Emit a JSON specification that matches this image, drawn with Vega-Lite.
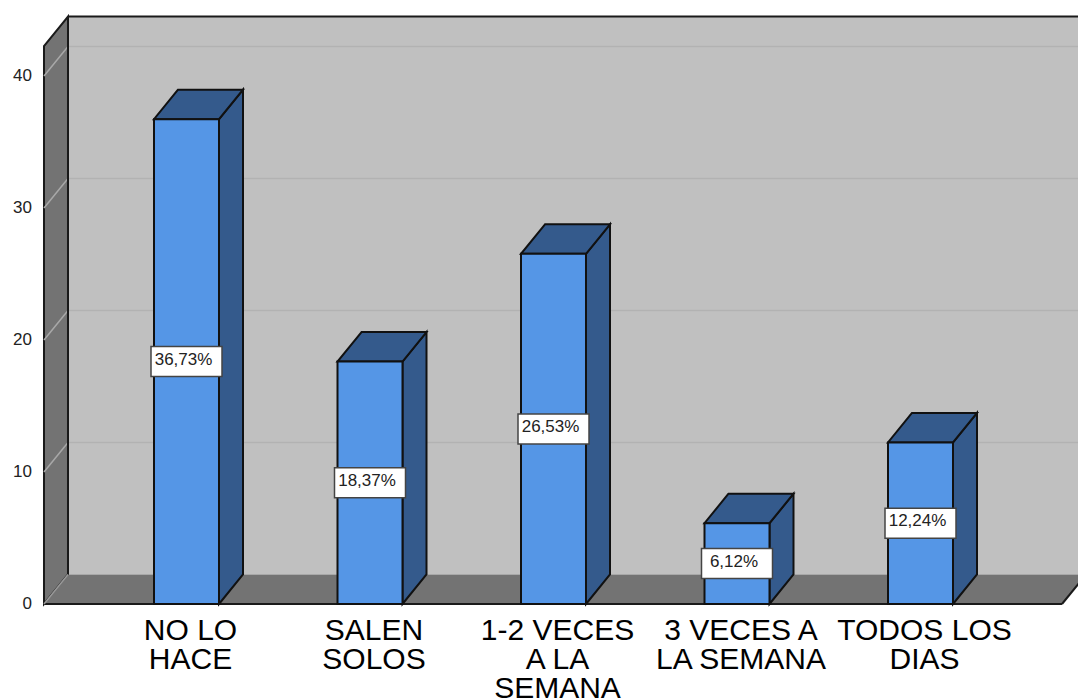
{
"$schema":"https://vega.github.io/schema/vega-lite/v6.json",
"width":1078,"height":700,"padding":0,"autosize":{"type":"none"},"background":"white",
"config":{"view":{"stroke":null},"font":"Liberation Sans"},
"datasets":{
"bars":[
{"categoria":["NO LO","HACE"],"valor":36.73,"etiqueta":"36,73%"},
{"categoria":["SALEN","SOLOS"],"valor":18.37,"etiqueta":"18,37%"},
{"categoria":["1-2 VECES","A LA","SEMANA"],"valor":26.53,"etiqueta":"26,53%"},
{"categoria":["3 VECES A","LA SEMANA"],"valor":6.12,"etiqueta":"6,12%"},
{"categoria":["TODOS LOS","DIAS"],"valor":12.24,"etiqueta":"12,24%"}
],
"ticks":[{"v":0},{"v":10},{"v":20},{"v":30},{"v":40}]
},
"layer":[
{"data":{"values":[{"x":0.3542,"x2":5.8583,"y":2.235,"y2":44.505}]},
"mark":{"type":"rect","fill":"#c0c0c0"},
"encoding":{
"x":{"field":"x","type":"quantitative","axis":null,"scale":{"domain":[-0.01635,5.8583],"nice":false,"zero":false}},
"x2":{"field":"x2"},
"y":{"field":"y","type":"quantitative","axis":null,"scale":{"domain":[-7.2727,45.7576],"nice":false,"zero":false}},
"y2":{"field":"y2"}}},
{"data":{"name":"ticks"},
"transform":[{"filter":"datum.v>0"},{"calculate":"datum.v+2.235","as":"yb"}],
"mark":{"type":"rule","stroke":"#b2b2b2","strokeWidth":1.5},
"encoding":{
"x":{"datum":0.3542,"type":"quantitative","axis":null,"scale":{"domain":[-0.01635,5.8583],"nice":false,"zero":false}},
"x2":{"datum":5.8583},
"y":{"field":"yb","type":"quantitative","axis":null,"scale":{"domain":[-7.2727,45.7576],"nice":false,"zero":false}}}},
{"data":{"values":[{"x":0.2234,"y":0,"y2":42.27},{"x":0.3542,"y":2.235,"y2":44.505}]},
"mark":{"type":"area","fill":"#737373","stroke":"#1a1a1a","strokeWidth":2,"orient":"vertical"},
"encoding":{
"x":{"field":"x","type":"quantitative","axis":null,"scale":{"domain":[-0.01635,5.8583],"nice":false,"zero":false}},
"y":{"field":"y","type":"quantitative","axis":null,"scale":{"domain":[-7.2727,45.7576],"nice":false,"zero":false}},
"y2":{"field":"y2"}}},
{"data":{"name":"ticks"},
"transform":[{"filter":"datum.v>0"},{"calculate":"datum.v+2.235","as":"yb"}],
"mark":{"type":"rule","stroke":"#a8a8a8","strokeWidth":1.5},
"encoding":{
"x":{"datum":0.2234,"type":"quantitative","axis":null,"scale":{"domain":[-0.01635,5.8583],"nice":false,"zero":false}},
"x2":{"datum":0.3542},
"y":{"field":"v","type":"quantitative","axis":null,"scale":{"domain":[-7.2727,45.7576],"nice":false,"zero":false}},
"y2":{"field":"yb"}}},
{"data":{"values":[{"y":0,"x":0.2234,"x2":5.771},{"y":2.235,"x":0.3542,"x2":5.902}]},
"mark":{"type":"area","fill":"#737373","orient":"horizontal","clip":true},
"encoding":{
"x":{"field":"x","type":"quantitative","axis":null,"scale":{"domain":[-0.01635,5.8583],"nice":false,"zero":false}},
"x2":{"field":"x2"},
"y":{"field":"y","type":"quantitative","axis":null,"scale":{"domain":[-7.2727,45.7576],"nice":false,"zero":false}}}},
{"data":{"values":[
{"x":0.2234,"x2":5.771,"y":0,"y2":0},
{"x":5.771,"x2":5.902,"y":0,"y2":2.235},
{"x":0.3542,"x2":0.3542,"y":2.235,"y2":44.505},
{"x":0.3542,"x2":5.8583,"y":44.505,"y2":44.505}]},
"mark":{"type":"rule","stroke":"#1a1a1a","strokeWidth":2,"clip":true},
"encoding":{
"x":{"field":"x","type":"quantitative","axis":null,"scale":{"domain":[-0.01635,5.8583],"nice":false,"zero":false}},
"x2":{"field":"x2"},
"y":{"field":"y","type":"quantitative","axis":null,"scale":{"domain":[-7.2727,45.7576],"nice":false,"zero":false}},
"y2":{"field":"y2"}}},
{"data":{"values":[{"x":0.2234,"x2":0.3542,"y":0,"y2":2.235}]},
"mark":{"type":"rule","stroke":"#999999","strokeWidth":1.5},
"encoding":{
"x":{"field":"x","type":"quantitative","axis":null,"scale":{"domain":[-0.01635,5.8583],"nice":false,"zero":false}},
"x2":{"field":"x2"},
"y":{"field":"y","type":"quantitative","axis":null,"scale":{"domain":[-7.2727,45.7576],"nice":false,"zero":false}},
"y2":{"field":"y2"}}},
{"data":{"name":"ticks"},
"mark":{"type":"text","fontSize":17,"font":"Liberation Sans","fill":"#222222","align":"right","baseline":"middle","dx":-12},
"encoding":{
"text":{"field":"v"},
"x":{"datum":0.2234,"type":"quantitative","axis":null,"scale":{"domain":[-0.01635,5.8583],"nice":false,"zero":false}},
"y":{"field":"v","type":"quantitative","axis":null,"scale":{"domain":[-7.2727,45.7576],"nice":false,"zero":false}}}},
{"data":{"name":"bars"},
"transform":[{"window":[{"op":"row_number","as":"pos"}]},{"calculate":"[0,1]","as":"d"},{"flatten":["d"]},
{"calculate":"datum.pos+0.1771+datum.d*0.1308","as":"sx"},{"calculate":"datum.d*2.235","as":"sy"},{"calculate":"datum.valor+datum.d*2.235","as":"sy2"}],
"mark":{"type":"area","fill":"#345a8c","stroke":"#111111","strokeWidth":2,"orient":"vertical"},
"encoding":{
"detail":{"field":"pos"},
"x":{"field":"sx","type":"quantitative","axis":null,"scale":{"domain":[-0.01635,5.8583],"nice":false,"zero":false}},
"y":{"field":"sy","type":"quantitative","axis":null,"scale":{"domain":[-7.2727,45.7576],"nice":false,"zero":false}},
"y2":{"field":"sy2"}}},
{"data":{"name":"bars"},
"transform":[{"window":[{"op":"row_number","as":"pos"}]},{"calculate":"[0,1]","as":"d"},{"flatten":["d"]},
{"calculate":"datum.pos-0.1771+datum.d*0.1308","as":"tx"},{"calculate":"datum.pos+0.1771+datum.d*0.1308","as":"tx2"},{"calculate":"datum.valor+datum.d*2.235","as":"ty"}],
"mark":{"type":"area","fill":"#345a8c","stroke":"#111111","strokeWidth":2,"orient":"horizontal"},
"encoding":{
"detail":{"field":"pos"},
"x":{"field":"tx","type":"quantitative","axis":null,"scale":{"domain":[-0.01635,5.8583],"nice":false,"zero":false}},
"x2":{"field":"tx2"},
"y":{"field":"ty","type":"quantitative","axis":null,"scale":{"domain":[-7.2727,45.7576],"nice":false,"zero":false}}}},
{"data":{"name":"bars"},
"transform":[{"window":[{"op":"row_number","as":"pos"}]},{"calculate":"datum.pos-0.1771","as":"fx"},{"calculate":"datum.pos+0.1771","as":"fx2"}],
"mark":{"type":"rect","fill":"#5596e6","stroke":"#111111","strokeWidth":2},
"encoding":{
"x":{"field":"fx","type":"quantitative","axis":null,"scale":{"domain":[-0.01635,5.8583],"nice":false,"zero":false}},
"x2":{"field":"fx2"},
"y":{"field":"valor","type":"quantitative","axis":null,"scale":{"domain":[-7.2727,45.7576],"nice":false,"zero":false}},
"y2":{"datum":0}}},
{"data":{"name":"bars"},
"transform":[{"window":[{"op":"row_number","as":"pos"}]},{"calculate":"datum.valor/2","as":"mid"}],
"mark":{"type":"point","shape":"M-35.5 -15 H35.5 V15 H-35.5 Z","size":4,"filled":true,"fill":"white","stroke":"#444444","strokeWidth":1.5,"opacity":1},
"encoding":{
"x":{"field":"pos","type":"quantitative","axis":null,"scale":{"domain":[-0.01635,5.8583],"nice":false,"zero":false}},
"y":{"field":"mid","type":"quantitative","axis":null,"scale":{"domain":[-7.2727,45.7576],"nice":false,"zero":false}}}},
{"data":{"name":"bars"},
"transform":[{"window":[{"op":"row_number","as":"pos"}]},{"calculate":"datum.valor/2","as":"mid"}],
"mark":{"type":"text","fontSize":17,"font":"Liberation Sans","fill":"#222222","align":"center","baseline":"middle","dx":-3,"dy":-2},
"encoding":{
"text":{"field":"etiqueta"},
"x":{"field":"pos","type":"quantitative","axis":null,"scale":{"domain":[-0.01635,5.8583],"nice":false,"zero":false}},
"y":{"field":"mid","type":"quantitative","axis":null,"scale":{"domain":[-7.2727,45.7576],"nice":false,"zero":false}}}},
{"data":{"name":"bars"},
"transform":[{"window":[{"op":"row_number","as":"pos"}]}],
"mark":{"type":"text","fontSize":30,"font":"Liberation Sans","fill":"#000000","align":"center","baseline":"alphabetic","lineHeight":29,"dx":4,"dy":-1},
"encoding":{
"text":{"field":"categoria"},
"x":{"field":"pos","type":"quantitative","axis":null,"scale":{"domain":[-0.01635,5.8583],"nice":false,"zero":false}},
"y":{"datum":-2.8,"type":"quantitative","axis":null,"scale":{"domain":[-7.2727,45.7576],"nice":false,"zero":false}}}}
]
}
